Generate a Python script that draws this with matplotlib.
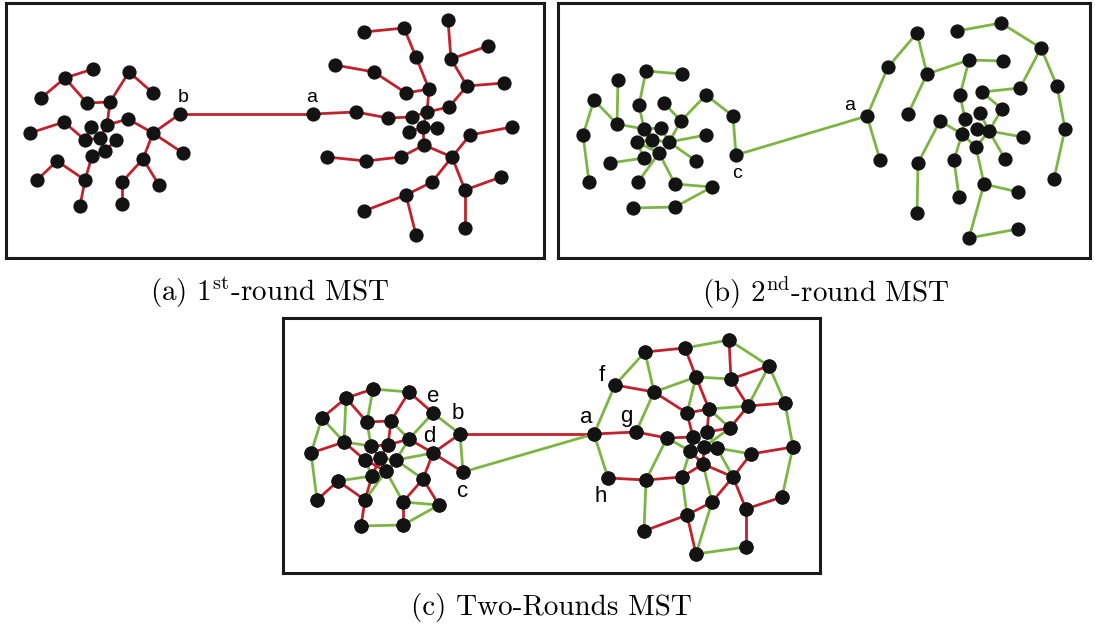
import matplotlib.pyplot as plt

plt.rcParams['mathtext.fontset'] = 'cm'

W, H = 1095, 626
RED = '#c0222b'
GREEN = '#7db544'
NODE = '#131313'

# ---- (a) 1st-round MST : node positions (page pixels) ----
a_nodes = {
    'A1': (93, 69), 'A2': (65, 78), 'A3': (41, 98), 'A4': (87, 103), 'A5': (110, 102),
    'A6': (129, 72), 'A7': (153, 93), 'A8': (180, 114), 'A9': (153, 133), 'A10': (183, 153),
    'A11': (143, 159), 'A12': (159, 185), 'A13': (122, 182), 'A14': (122, 204), 'A15': (128, 119),
    'A16': (107, 125), 'A17': (91, 127), 'A18': (85, 140), 'A19': (64, 122), 'A20': (30, 133),
    'A21': (100, 138), 'A22': (116, 140), 'A23': (105, 151), 'A24': (92, 156), 'A25': (85, 180),
    'A26': (57, 161), 'A27': (37, 180), 'A28': (80, 206),
    'B1': (313, 114), 'B2': (356, 112), 'B3': (388, 118), 'B4': (412, 117), 'B5': (409, 132),
    'B6': (423, 127), 'B7': (437, 128), 'B8': (427, 112), 'B9': (449, 107), 'B10': (467, 86),
    'B11': (504, 83), 'B12': (451, 59), 'B13': (488, 46), 'B14': (448, 20), 'B15': (429, 89),
    'B16': (406, 93), 'B17': (374, 72), 'B18': (335, 65), 'B19': (416, 57), 'B20': (404, 28),
    'B21': (364, 32), 'B22': (424, 145), 'B23': (401, 157), 'B24': (366, 161), 'B25': (327, 157),
    'B26': (452, 157), 'B27': (470, 135), 'B28': (512, 127), 'B29': (465, 190), 'B30': (501, 177),
    'B31': (465, 228), 'B32': (432, 182), 'B33': (406, 195), 'B34': (364, 211), 'B35': (416, 235),
}
a_edges = [
    ('A1', 'A2'), ('A2', 'A3'), ('A2', 'A4'), ('A4', 'A5'), ('A5', 'A6'), ('A6', 'A7'),
    ('A5', 'A16'), ('A16', 'A15'), ('A15', 'A9'), ('A9', 'A8'), ('A9', 'A10'), ('A9', 'A11'),
    ('A11', 'A12'), ('A11', 'A13'), ('A13', 'A14'), ('A19', 'A20'), ('A19', 'A18'),
    ('A18', 'A17'), ('A18', 'A21'), ('A16', 'A21'), ('A21', 'A23'), ('A22', 'A23'),
    ('A23', 'A24'), ('A24', 'A25'), ('A25', 'A26'), ('A26', 'A27'), ('A25', 'A28'),
    ('A8', 'B1'),
    ('B1', 'B2'), ('B2', 'B3'), ('B3', 'B4'), ('B4', 'B8'), ('B8', 'B6'), ('B6', 'B5'),
    ('B6', 'B7'), ('B6', 'B22'), ('B8', 'B9'), ('B8', 'B15'), ('B9', 'B10'), ('B10', 'B11'),
    ('B10', 'B12'), ('B12', 'B13'), ('B12', 'B14'), ('B15', 'B16'), ('B16', 'B17'),
    ('B17', 'B18'), ('B15', 'B19'), ('B19', 'B20'), ('B20', 'B21'), ('B22', 'B23'),
    ('B23', 'B24'), ('B24', 'B25'), ('B22', 'B26'), ('B26', 'B27'), ('B27', 'B28'),
    ('B26', 'B29'), ('B29', 'B30'), ('B29', 'B31'), ('B26', 'B32'), ('B32', 'B33'),
    ('B33', 'B34'), ('B33', 'B35'),
]
a_labels = {'b': (183, 97), 'a': (312, 97)}

# ---- (b) 2nd-round MST ----
b_nodes = {
    'C1': (646, 71), 'C2': (682, 74), 'C3': (618, 80), 'C4': (594, 100), 'C5': (639, 105),
    'C6': (664, 103), 'C7': (706, 95), 'C8': (733, 116), 'C9': (736, 155), 'C10': (681, 121),
    'C11': (617, 124), 'C12': (644, 129), 'C13': (661, 128), 'C14': (583, 135), 'C15': (637, 142),
    'C16': (652, 140), 'C17': (669, 142), 'C18': (706, 135), 'C19': (659, 153), 'C20': (644, 158),
    'C21': (610, 163), 'C22': (696, 161), 'C23': (589, 182), 'C24': (638, 182), 'C25': (675, 184),
    'C26': (712, 187), 'C27': (675, 207), 'C28': (633, 208),
    'D1': (867, 116), 'D2': (880, 160), 'D3': (888, 67), 'D4': (917, 33), 'D5': (927, 74),
    'D6': (908, 114), 'D7': (969, 60), 'D8': (1003, 61), 'D9': (957, 31), 'D10': (1001, 23),
    'D11': (1041, 48), 'D12': (1057, 86), 'D13': (1065, 129), 'D14': (1054, 179), 'D15': (1020, 88),
    'D16': (982, 92), 'D17': (1002, 109), 'D18': (960, 95), 'D19': (965, 119), 'D20': (980, 113),
    'D21': (977, 129), 'D22': (989, 131), 'D23': (962, 134), 'D24': (940, 121), 'D25': (976, 147),
    'D26': (1023, 137), 'D27': (1005, 159), 'D28': (954, 160), 'D29': (918, 163), 'D30': (917, 213),
    'D31': (959, 197), 'D32': (984, 184), 'D33': (1018, 192), 'D34': (969, 238), 'D35': (1018, 229),
}
b_edges = [
    ('C1', 'C2'), ('C1', 'C5'), ('C5', 'C12'), ('C3', 'C11'), ('C4', 'C11'), ('C4', 'C14'),
    ('C14', 'C23'), ('C11', 'C12'), ('C12', 'C13'), ('C13', 'C17'), ('C6', 'C10'),
    ('C10', 'C7'), ('C7', 'C8'), ('C8', 'C9'), ('C10', 'C17'), ('C17', 'C18'), ('C17', 'C22'),
    ('C16', 'C17'), ('C15', 'C16'), ('C15', 'C19'), ('C15', 'C20'), ('C20', 'C21'),
    ('C19', 'C24'), ('C19', 'C25'), ('C25', 'C26'), ('C26', 'C27'), ('C27', 'C28'),
    ('C9', 'D1'),
    ('D1', 'D2'), ('D1', 'D3'), ('D3', 'D4'), ('D4', 'D5'), ('D5', 'D6'), ('D5', 'D7'),
    ('D7', 'D8'), ('D7', 'D18'), ('D18', 'D19'), ('D19', 'D23'), ('D9', 'D10'),
    ('D10', 'D11'), ('D11', 'D15'), ('D15', 'D16'), ('D16', 'D17'), ('D17', 'D22'),
    ('D11', 'D12'), ('D12', 'D13'), ('D13', 'D14'), ('D22', 'D26'), ('D22', 'D27'),
    ('D20', 'D22'), ('D21', 'D22'), ('D24', 'D23'), ('D24', 'D29'), ('D29', 'D30'),
    ('D23', 'D28'), ('D28', 'D31'), ('D23', 'D25'), ('D25', 'D22'), ('D25', 'D32'),
    ('D32', 'D33'), ('D32', 'D34'), ('D34', 'D35'),
]
b_labels = {'a': (850, 105), 'c': (737, 173)}

# ---- (c) two rounds merged ----
c_nodes = {
    'E1': (373, 389), 'E2': (409, 392), 'E3': (346, 398), 'E4': (322, 418), 'E5': (367, 422),
    'E6': (391, 421), 'E7': (433, 413), 'E8': (460, 434), 'E9': (409, 439), 'E10': (344, 442),
    'E11': (311, 453), 'E12': (371, 446), 'E13': (388, 445), 'E14': (433, 453), 'E15': (365, 460),
    'E16': (380, 458), 'E17': (396, 460), 'E18': (386, 471), 'E19': (372, 476), 'E20': (338, 481),
    'E21': (423, 479), 'E22': (463, 472), 'E23': (317, 500), 'E24': (365, 500), 'E25': (403, 502),
    'E26': (439, 505), 'E27': (403, 525), 'E28': (361, 526),
    'F1': (594, 434), 'F2': (615, 385), 'F3': (636, 432), 'F4': (608, 478), 'F5': (645, 352),
    'F6': (685, 348), 'F7': (729, 340), 'F8': (769, 366), 'F9': (654, 392), 'F10': (696, 377),
    'F11': (731, 379), 'F12': (785, 403), 'F13': (748, 406), 'F14': (687, 413), 'F15': (709, 409),
    'F16': (730, 428), 'F17': (667, 438), 'F18': (693, 437), 'F19': (707, 432), 'F20': (690, 451),
    'F21': (704, 447), 'F22': (717, 448), 'F23': (703, 464), 'F24': (751, 454), 'F25': (793, 447),
    'F26': (733, 477), 'F27': (682, 477), 'F28': (646, 480), 'F29': (644, 531), 'F30': (687, 515),
    'F31': (712, 502), 'F32': (746, 509), 'F33': (782, 497), 'F34': (696, 554), 'F35': (746, 547),
}
c_red = [
    ('E3', 'E1'), ('E3', 'E4'), ('E3', 'E5'), ('E5', 'E6'), ('E2', 'E6'), ('E2', 'E7'),
    ('E6', 'E13'), ('E13', 'E9'), ('E9', 'E14'), ('E8', 'E14'), ('E14', 'E22'), ('E14', 'E21'),
    ('E10', 'E11'), ('E10', 'E15'), ('E23', 'E20'), ('E20', 'E24'), ('E24', 'E28'),
    ('E27', 'E25'), ('E21', 'E26'), ('E21', 'E25'), ('E19', 'E24'), ('E12', 'E13'),
    ('E15', 'E18'), ('E16', 'E13'), ('E16', 'E19'),
    ('E8', 'F1'),
    ('F1', 'F3'), ('F2', 'F9'), ('F5', 'F6'), ('F6', 'F10'), ('F7', 'F11'), ('F8', 'F11'),
    ('F9', 'F14'), ('F10', 'F15'), ('F11', 'F13'), ('F13', 'F12'), ('F14', 'F15'),
    ('F13', 'F16'), ('F3', 'F17'), ('F17', 'F18'), ('F14', 'F18'), ('F15', 'F19'),
    ('F19', 'F16'), ('F24', 'F25'), ('F24', 'F26'), ('F33', 'F32'), ('F32', 'F26'),
    ('F32', 'F35'), ('F34', 'F30'), ('F30', 'F31'), ('F30', 'F29'), ('F28', 'F4'),
    ('F28', 'F27'), ('F27', 'F23'), ('F23', 'F26'), ('F26', 'F31'), ('F23', 'F20'),
    ('F23', 'F21'), ('F18', 'F20'),
]
c_green = [
    ('E1', 'E2'), ('E3', 'E10'), ('E4', 'E10'), ('E4', 'E11'), ('E1', 'E5'), ('E7', 'E8'),
    ('E7', 'E9'), ('E6', 'E9'), ('E5', 'E12'), ('E8', 'E22'), ('E10', 'E12'), ('E11', 'E23'),
    ('E20', 'E19'), ('E28', 'E27'), ('E25', 'E26'), ('E27', 'E26'), ('E18', 'E25'),
    ('E18', 'E24'), ('E17', 'E14'), ('E17', 'E9'), ('E17', 'E21'), ('E12', 'E16'),
    ('E16', 'E17'), ('E15', 'E19'),
    ('E22', 'F1'),
    ('F1', 'F2'), ('F1', 'F4'), ('F2', 'F5'), ('F5', 'F9'), ('F6', 'F7'), ('F7', 'F8'),
    ('F8', 'F13'), ('F8', 'F12'), ('F9', 'F10'), ('F9', 'F3'), ('F10', 'F11'), ('F10', 'F14'),
    ('F15', 'F13'), ('F15', 'F16'), ('F12', 'F25'), ('F17', 'F20'), ('F17', 'F28'),
    ('F16', 'F21'), ('F22', 'F24'), ('F25', 'F33'), ('F35', 'F34'), ('F34', 'F31'),
    ('F29', 'F28'), ('F27', 'F30'), ('F23', 'F31'), ('F22', 'F26'), ('F20', 'F27'),
    ('F19', 'F22'),
]
c_labels = {'e': (433, 397), 'b': (458, 414), 'd': (429, 437), 'c': (463, 492),
            'f': (602, 376), 'a': (586, 418), 'g': (626, 417), 'h': (601, 497)}

captions = [
    (270, 293, r'(a) 1$^{\mathrm{st}}$-round MST'),
    (826, 293, r'(b) 2$^{\mathrm{nd}}$-round MST'),
    (551, 607, '(c) Two-Rounds MST'),
]


def make_panel(fig, box):
    x0, y0, x1, y1 = box
    ax = fig.add_axes([x0 / W, 1 - y1 / H, (x1 - x0) / W, (y1 - y0) / H])
    ax.set_xlim(x0, x1)
    ax.set_ylim(y1, y0)
    ax.set_xticks([])
    ax.set_yticks([])
    for s in ax.spines.values():
        s.set_linewidth(2.2)
        s.set_color('#1a1a1a')
    return ax


def draw_graph(ax, nodes, edges, color, labels, fs):
    for u, v in edges:
        (xu, yu), (xv, yv) = nodes[u], nodes[v]
        ax.plot([xu, xv], [yu, yv], color=color, lw=2.0, solid_capstyle='round', zorder=1)
    xs = [p[0] for p in nodes.values()]
    ys = [p[1] for p in nodes.values()]
    ax.scatter(xs, ys, s=105, color=NODE, zorder=3, linewidths=0)
    for t, (x, y) in labels.items():
        ax.text(x, y, t, fontsize=fs, family='Liberation Sans', ha='center', va='center')


fig = plt.figure(figsize=(W / 100, H / 100), dpi=100)

ax_a = make_panel(fig, (6, 3, 544, 258))
draw_graph(ax_a, a_nodes, a_edges, RED, a_labels, 14)

ax_b = make_panel(fig, (558, 3, 1090, 258))
draw_graph(ax_b, b_nodes, b_edges, GREEN, b_labels, 14)

ax_c = make_panel(fig, (283, 318, 820, 573))
draw_graph(ax_c, c_nodes, c_red, RED, {}, 15)
draw_graph(ax_c, c_nodes, c_green, GREEN, c_labels, 16)

for x, y, t in captions:
    fig.text(x / W, 1 - y / H, t, fontsize=21, family='cmr10', ha='center', va='center')

fig.savefig('out.png', dpi=100)
